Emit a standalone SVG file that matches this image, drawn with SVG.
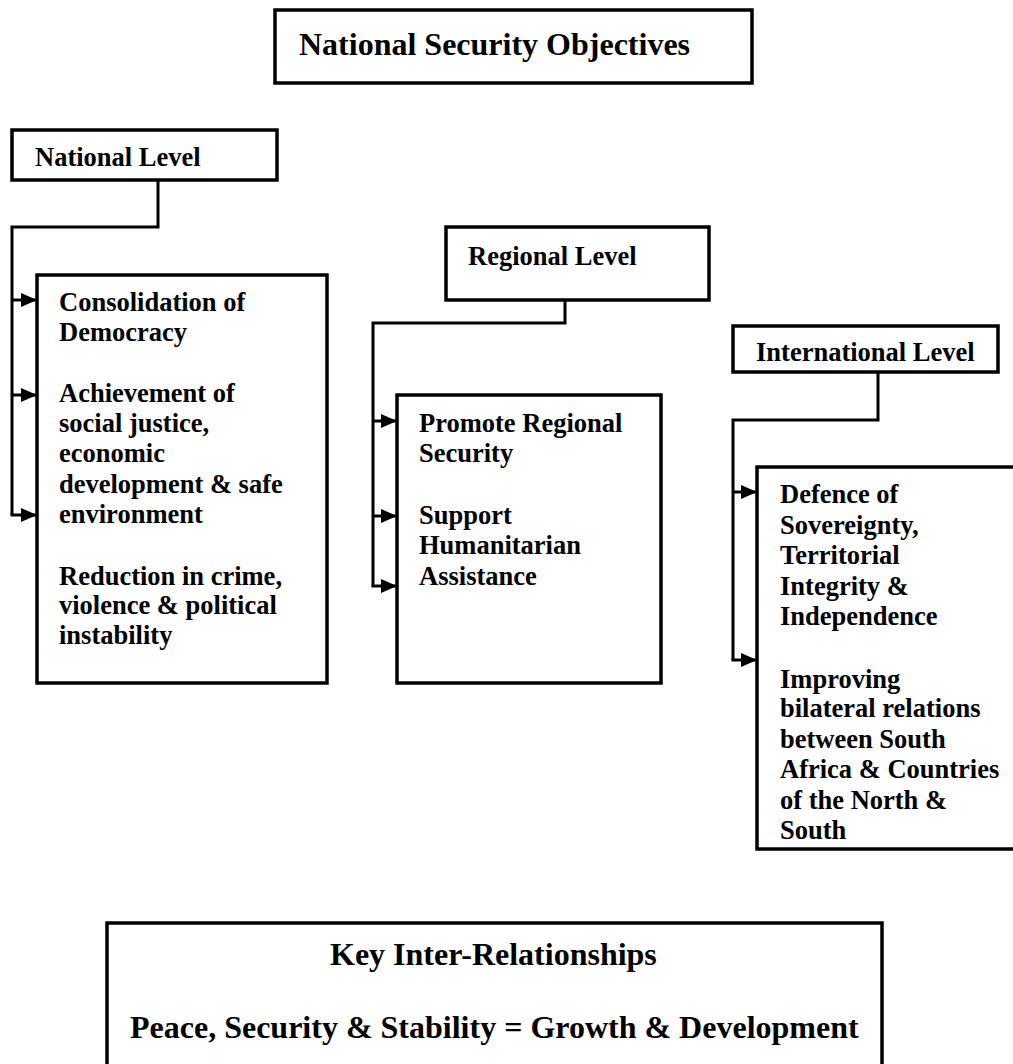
<svg xmlns="http://www.w3.org/2000/svg" width="1013" height="1064" viewBox="0 0 1013 1064">
<style>
.box{fill:#fff;stroke:#000;stroke-width:3.5}
.t{font-family:"Liberation Serif","Times New Roman",serif;font-weight:bold;fill:#000}
.b{font-size:26.5px}
.h{font-size:32px}
.c{fill:none;stroke:#000;stroke-width:3}
</style>
<defs>
<marker id="ah" markerUnits="userSpaceOnUse" markerWidth="16" markerHeight="14" refX="16" refY="7" orient="auto">
<path d="M0,0 L16,7 L0,14 Z" fill="#000"/>
</marker>
</defs>
<rect width="1013" height="1064" fill="#fff"/>
<g id="title">
<rect class="box" x="275" y="10" width="477" height="73"/>
<text class="t h" x="299" y="55">National Security Objectives</text>
</g>
<g id="national-level">
<rect class="box" x="12" y="130" width="265" height="50"/>
<text class="t b" x="35" y="166">National Level</text>
</g>
<g id="national-objectives">
<rect class="box" x="37" y="275" width="290" height="408"/>
<text class="t b">
<tspan x="59" y="311">Consolidation of</tspan>
<tspan x="59" y="341">Democracy</tspan>
<tspan x="59" y="402">Achievement of</tspan>
<tspan x="59" y="432">social justice,</tspan>
<tspan x="59" y="462">economic</tspan>
<tspan x="59" y="493">development &amp; safe</tspan>
<tspan x="59" y="523">environment</tspan>
<tspan x="59" y="585">Reduction in crime,</tspan>
<tspan x="59" y="614">violence &amp; political</tspan>
<tspan x="59" y="644">instability</tspan>
</text>
</g>
<g id="regional-level">
<rect class="box" x="446" y="227" width="263" height="73"/>
<text class="t b" x="468" y="265">Regional Level</text>
</g>
<g id="regional-objectives">
<rect class="box" x="397" y="395" width="264" height="288"/>
<text class="t b">
<tspan x="419" y="432">Promote Regional</tspan>
<tspan x="419" y="462">Security</tspan>
<tspan x="419" y="524">Support</tspan>
<tspan x="419" y="554">Humanitarian</tspan>
<tspan x="419" y="585">Assistance</tspan>
</text>
</g>
<g id="international-level">
<rect class="box" x="733" y="326" width="265" height="46"/>
<text class="t b" x="756" y="361">International Level</text>
</g>
<g id="international-objectives">
<rect class="box" x="757" y="467" width="270" height="382"/>
<text class="t b">
<tspan x="780" y="503">Defence of</tspan>
<tspan x="780" y="533.5">Sovereignty,</tspan>
<tspan x="780" y="564">Territorial</tspan>
<tspan x="780" y="594.5">Integrity &amp;</tspan>
<tspan x="780" y="625">Independence</tspan>
<tspan x="780" y="688">Improving</tspan>
<tspan x="780" y="717">bilateral relations</tspan>
<tspan x="780" y="747.5">between South</tspan>
<tspan x="780" y="778">Africa &amp; Countries</tspan>
<tspan x="780" y="808.5">of the North &amp;</tspan>
<tspan x="780" y="839">South</tspan>
</text>
</g>
<g id="key-relationships">
<rect class="box" x="107" y="923" width="775" height="160"/>
<text class="t h" x="330" y="965">Key Inter-Relationships</text>
<text class="t h" x="130" y="1038">Peace, Security &amp; Stability = Growth &amp; Development</text>
</g>
<g id="connectors">
<path class="c" d="M158,180 V227 H12 V515"/>
<path class="c" d="M12,300 H37" marker-end="url(#ah)"/>
<path class="c" d="M12,395 H37" marker-end="url(#ah)"/>
<path class="c" d="M10.5,515 H37" marker-end="url(#ah)"/>
<path class="c" d="M565,300 V323 H373 V586"/>
<path class="c" d="M373,421 H397" marker-end="url(#ah)"/>
<path class="c" d="M373,516 H397" marker-end="url(#ah)"/>
<path class="c" d="M371.5,586 H397" marker-end="url(#ah)"/>
<path class="c" d="M878,372 V420 H733 V660"/>
<path class="c" d="M733,492 H757" marker-end="url(#ah)"/>
<path class="c" d="M731.5,660 H757" marker-end="url(#ah)"/>
</g>
</svg>
